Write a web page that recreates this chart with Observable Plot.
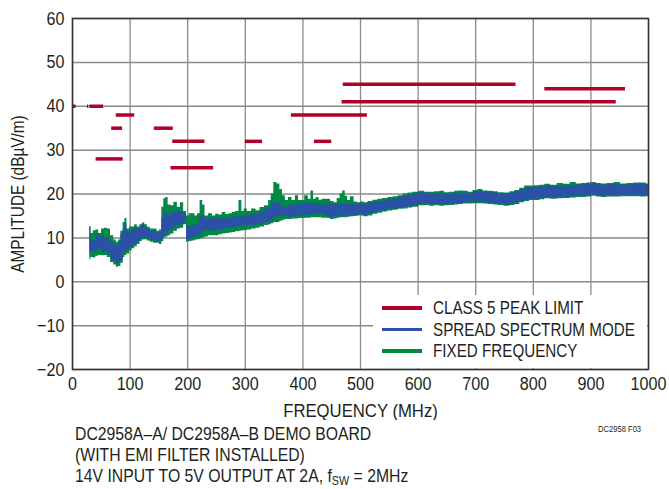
<!DOCTYPE html>
<html><head><meta charset="utf-8">
<script src="https://cdn.jsdelivr.net/npm/d3@7"></script>
<script src="https://cdn.jsdelivr.net/npm/@observablehq/plot@0.6"></script>
<style>
body{margin:0;background:#fff;}
#wrap{position:relative;width:669px;height:489px;font-family:'Liberation Sans',Arial,sans-serif;color:#231f20;overflow:hidden;}
#legend{position:absolute;left:373px;top:295px;width:274px;height:73px;background:#fff;}
.row{position:absolute;left:0;height:20px;display:flex;align-items:center;font-size:19px;white-space:nowrap;}
.sw{display:inline-block;width:40px;height:3.5px;margin-left:9px;margin-right:11px;flex:none;}
.lt{display:inline-block;transform:scaleX(0.80);transform-origin:left center;}
#caption{position:absolute;left:75px;top:423px;font-size:19px;line-height:21px;white-space:nowrap;transform:scaleX(0.83);transform-origin:left top;}
#fig{position:absolute;left:598px;top:423px;font-size:9.5px;transform:scaleX(0.8);transform-origin:left top;white-space:nowrap;}
sub{font-size:13px;vertical-align:-3px;line-height:0;}
</style>
</head><body>
<div id="wrap">
<div id="chart"></div>
<div id="legend"></div>
<div id="caption">DC2958A–A/ DC2958A–B DEMO BOARD<br>(WITH EMI FILTER INSTALLED)<br>14V INPUT TO 5V OUTPUT AT 2A, f<sub>SW</sub> = 2MHz</div>
<div id="fig">DC2958 F03</div>
</div>
<script>
// Frequency (MHz) of read samples
const freq = [30,34,38,43,48,53,58,63,69,74,78,82,86,90,92,97,101,106,110,115,119,123,128,132,138,144,149,153,157,160,164,168,173,179,185,190,196,
200,205,210,215,219,224,228,232,240,246,251,257,263,269,275,280,286,292,296,300,307,315,322,329,338,343,347,352,358,362,367,372,378,384,390,395,399,
407,412,416,421,425,431,436,441,445,451,457,462,467,471,476,479,486,492,497,503,509,517,526,534,543,552,561,570,578,587,595,607,616,624,633,642,650,
659,668,674,683,691,700,708,717,726,735,743,755,764,772,781,789,798,807,816,824,836,847,858,870,879,888,897,905,914,922,934,946,957,969,980,992,1000];
// Fixed frequency envelope (low / high), dBµV/m
const fixedLow = [5.0,5.5,5.4,5.8,6.0,5.9,6.0,5.5,4.4,3.8,3.3,3.5,4.2,5.5,6.0,6.3,7.0,7.5,8.0,8.5,9.2,9.5,9.6,9.3,9.0,8.8,8.8,8.5,9.2,10.0,10.2,10.5,10.9,11.5,12.0,12.2,13.0,
9.0,9.2,9.3,9.5,9.6,9.8,10.0,10.2,10.5,10.5,10.5,10.7,10.9,11.0,11.1,11.2,11.4,11.5,11.6,11.7,11.8,12.0,12.2,12.5,12.8,13.0,13.2,13.5,13.5,13.8,14.0,14.2,14.2,14.3,14.3,14.4,14.4,
14.5,14.5,14.6,14.6,14.6,14.6,14.5,14.5,14.4,14.2,14.3,14.5,14.6,14.6,14.6,14.7,14.8,14.9,15.0,15.0,14.8,15.0,15.4,15.6,15.9,16.1,16.3,16.5,16.6,16.8,17.0,17.3,17.4,17.2,17.3,17.2,17.3,
17.4,17.5,17.6,17.7,17.7,17.8,17.8,17.7,17.6,17.5,17.4,17.2,17.4,17.6,18.0,18.3,18.5,18.5,18.7,18.9,18.8,18.9,19.0,19.1,19.2,19.2,19.3,19.5,19.3,19.2,19.3,19.3,19.4,19.4,19.4,19.3,19.4];
const fixedHigh = [12.6,11.0,11.6,11.8,11.0,12.0,12.2,12.0,10.5,9.5,9.0,9.5,11.5,13.5,14.4,12.0,12.5,12.5,13.0,12.5,13.0,13.4,13.0,12.4,12.0,12.0,11.5,11.8,17.0,18.9,19.2,17.5,17.3,18.1,17.0,18.0,16.0,
15.0,15.5,15.5,15.0,15.5,18.5,17.5,15.0,15.5,15.0,15.4,15.2,15.8,15.3,15.5,15.8,16.0,18.5,16.0,16.6,16.0,16.6,16.2,16.9,17.3,18.5,20.0,22.6,22.3,21.0,19.6,18.5,19.2,18.5,19.6,18.5,18.5,
19.6,18.8,20.7,18.8,19.2,18.6,18.8,18.8,18.8,18.3,18.0,19.0,20.0,20.7,19.5,18.5,19.4,18.2,18.0,18.2,18.0,18.3,18.6,18.8,19.0,19.2,19.4,19.6,20.0,20.2,20.4,20.6,20.4,20.4,20.5,20.6,20.3,
20.4,20.6,20.7,20.6,20.4,20.8,21.0,20.7,20.6,20.5,20.3,20.2,20.5,20.8,21.3,21.8,21.8,21.9,22.0,22.2,22.0,22.4,22.2,22.6,22.3,22.4,22.5,22.6,22.4,22.3,22.4,22.6,22.3,22.4,22.5,22.5,22.3];
// Spread spectrum mode envelope (low / high), dBµV/m
const spreadLow = [6.3,7.0,6.7,7.1,7.4,6.6,6.8,6.5,5.2,4.6,4.1,4.3,4.8,6.5,7.0,7.1,7.8,8.2,8.7,9.0,9.7,10.1,10.0,9.8,9.5,9.3,9.2,9.0,9.8,10.5,11.0,11.5,12.0,12.5,12.8,13.0,13.5,
9.5,9.8,10.0,10.2,10.4,11.0,11.6,11.6,11.6,11.6,11.6,11.8,12.0,12.2,12.3,12.4,12.5,12.6,12.7,12.8,12.8,12.8,13.0,13.2,13.5,13.7,13.9,14.5,15.0,15.0,15.0,15.0,14.6,14.8,15.0,15.0,15.0,
15.2,15.2,15.2,15.3,15.5,15.3,15.3,15.0,14.8,14.6,14.8,15.0,15.0,15.0,15.0,15.0,15.1,15.2,15.4,15.3,15.0,15.4,15.8,16.0,16.3,16.5,16.6,16.8,16.9,17.1,17.3,17.7,17.8,17.5,17.6,17.5,17.6,
17.7,17.8,17.9,18.0,18.0,18.1,18.1,18.0,17.9,17.8,17.7,17.5,17.7,18.0,18.3,18.6,18.8,18.8,19.0,19.2,19.1,19.2,19.3,19.4,19.5,19.5,19.6,19.8,19.6,19.5,19.6,19.6,19.7,19.7,19.7,19.6,19.7];
const spreadHigh = [12.4,9.5,9.3,10.9,10.0,10.5,10.0,9.8,9.0,8.6,8.2,8.8,10.9,12.0,13.2,11.2,11.5,12.0,12.3,12.0,12.5,13.0,12.5,12.0,11.5,11.6,11.0,11.2,14.5,15.8,15.5,15.0,15.8,16.0,16.2,16.0,15.5,
12.8,12.5,12.8,13.0,13.2,15.0,15.0,14.5,14.3,14.5,14.6,14.3,14.5,14.3,14.5,14.6,14.8,15.0,14.8,15.0,15.0,15.5,15.3,16.0,16.5,17.0,17.8,18.1,18.0,17.5,17.0,17.0,17.3,17.5,17.8,17.5,17.8,
18.0,17.8,18.0,17.8,17.8,17.5,17.5,17.8,17.8,17.8,17.5,17.8,17.8,17.8,17.6,17.6,17.8,17.6,17.7,17.8,17.7,17.9,18.1,18.3,18.6,18.7,18.8,19.3,19.6,19.8,20.0,20.3,20.2,20.0,20.1,20.0,20.0,
20.0,20.2,20.1,20.3,20.0,20.5,20.6,20.4,20.3,20.2,20.0,20.0,20.2,20.6,21.0,21.5,21.5,21.6,21.6,21.9,21.8,21.6,21.9,22.0,22.0,22.1,22.2,22.4,22.1,22.0,22.1,22.1,22.0,22.1,22.2,22.2,22.0];
// CISPR 25 class 5 peak limit segments
const limitStart = [0.53,26,30,41,68,76,142,171,174,300,380,420,468,470,820];
const limitEnd   = [6.2,28,54,88,87,108,175,245,230,330,512,450,944,770,960];
const limitLevel = [40,40,40,28,35,38,35,26,32,32,38,32,41,45,44];
const xTicks = [0,100,200,300,400,500,600,700,800,900,1000];
const yTicks = [-20,-10,0,10,20,30,40,50,60];

const series = freq.map((f,i)=>({f, gLo:fixedLow[i], gHi:fixedHigh[i], bLo:spreadLow[i], bHi:spreadHigh[i]}));
const limits = limitStart.map((s,i)=>({x1:s, x2:limitEnd[i], y:limitLevel[i]}));

const RED="#b1002a", BLUE="#2a51a6", GREEN="#008a43";
const FONT="'Liberation Sans',Arial,sans-serif";

const chart = Plot.plot({
  width:669, height:420,
  marginLeft:72, marginRight:21, marginTop:18, marginBottom:51,
  style:{fontFamily:FONT, fontSize:"19px", color:"#231f20", background:"#fff"},
  x:{domain:[0,1000]},
  y:{domain:[-20,60]},
  marks:[
    Plot.gridX(xTicks,{stroke:"#8a8a8a", strokeOpacity:1, strokeWidth:1.3}),
    Plot.gridY(yTicks,{stroke:"#8a8a8a", strokeOpacity:1, strokeWidth:1.5}),
    Plot.areaY(series,{x:"f", y1:"gLo", y2:"gHi", fill:GREEN, curve:"step"}),
    Plot.areaY(series,{x:"f", y1:"bLo", y2:"bHi", fill:BLUE, curve:"step"}),
    Plot.ruleY(limits,{y:"y", x1:"x1", x2:"x2", stroke:RED, strokeWidth:3.5}),
    Plot.frame({stroke:"#333", strokeWidth:1.5}),
    Plot.axisX(xTicks,{tickSize:0, tickPadding:7, fontSize:19, tickFormat:d=>String(d), label:"FREQUENCY (MHz)", labelAnchor:"center", labelArrow:"none", labelOffset:47}),
    Plot.axisY(yTicks,{tickSize:0, tickPadding:8, fontSize:19, tickFormat:d=>d<0?"\u2212"+Math.abs(d):String(d), label:"AMPLITUDE (dBµV/m)", labelAnchor:"center", labelArrow:"none", labelOffset:62})
  ]
});
// condensed look: horizontally compress axis texts around their anchor
const squeeze = {"x-axis tick label":0.85,"y-axis tick label":0.85,"x-axis label":0.88,"y-axis label":0.81};
chart.querySelectorAll("g[aria-label]").forEach(g=>{
  const s = squeeze[g.getAttribute("aria-label")];
  if (!s) return;
  g.querySelectorAll("text").forEach(t=>{
    const tr = t.getAttribute("transform") || "";
    t.setAttribute("transform", (tr+" scale("+s+",1)").trim());
  });
});
document.getElementById("chart").appendChild(chart);

const legendItems = [["CLASS 5 PEAK LIMIT",RED],["SPREAD SPECTRUM MODE",BLUE],["FIXED FREQUENCY",GREEN]];
const lg = document.getElementById("legend");
legendItems.forEach(([t,c],i)=>{
  const r=document.createElement("div"); r.className="row"; r.style.top=(3+i*21.5)+"px";
  const s=document.createElement("span"); s.className="sw"; s.style.background=c;
  const tx=document.createElement("span"); tx.className="lt"; tx.textContent=t;
  r.appendChild(s); r.appendChild(tx); lg.appendChild(r);
});
</script>
</body></html>
